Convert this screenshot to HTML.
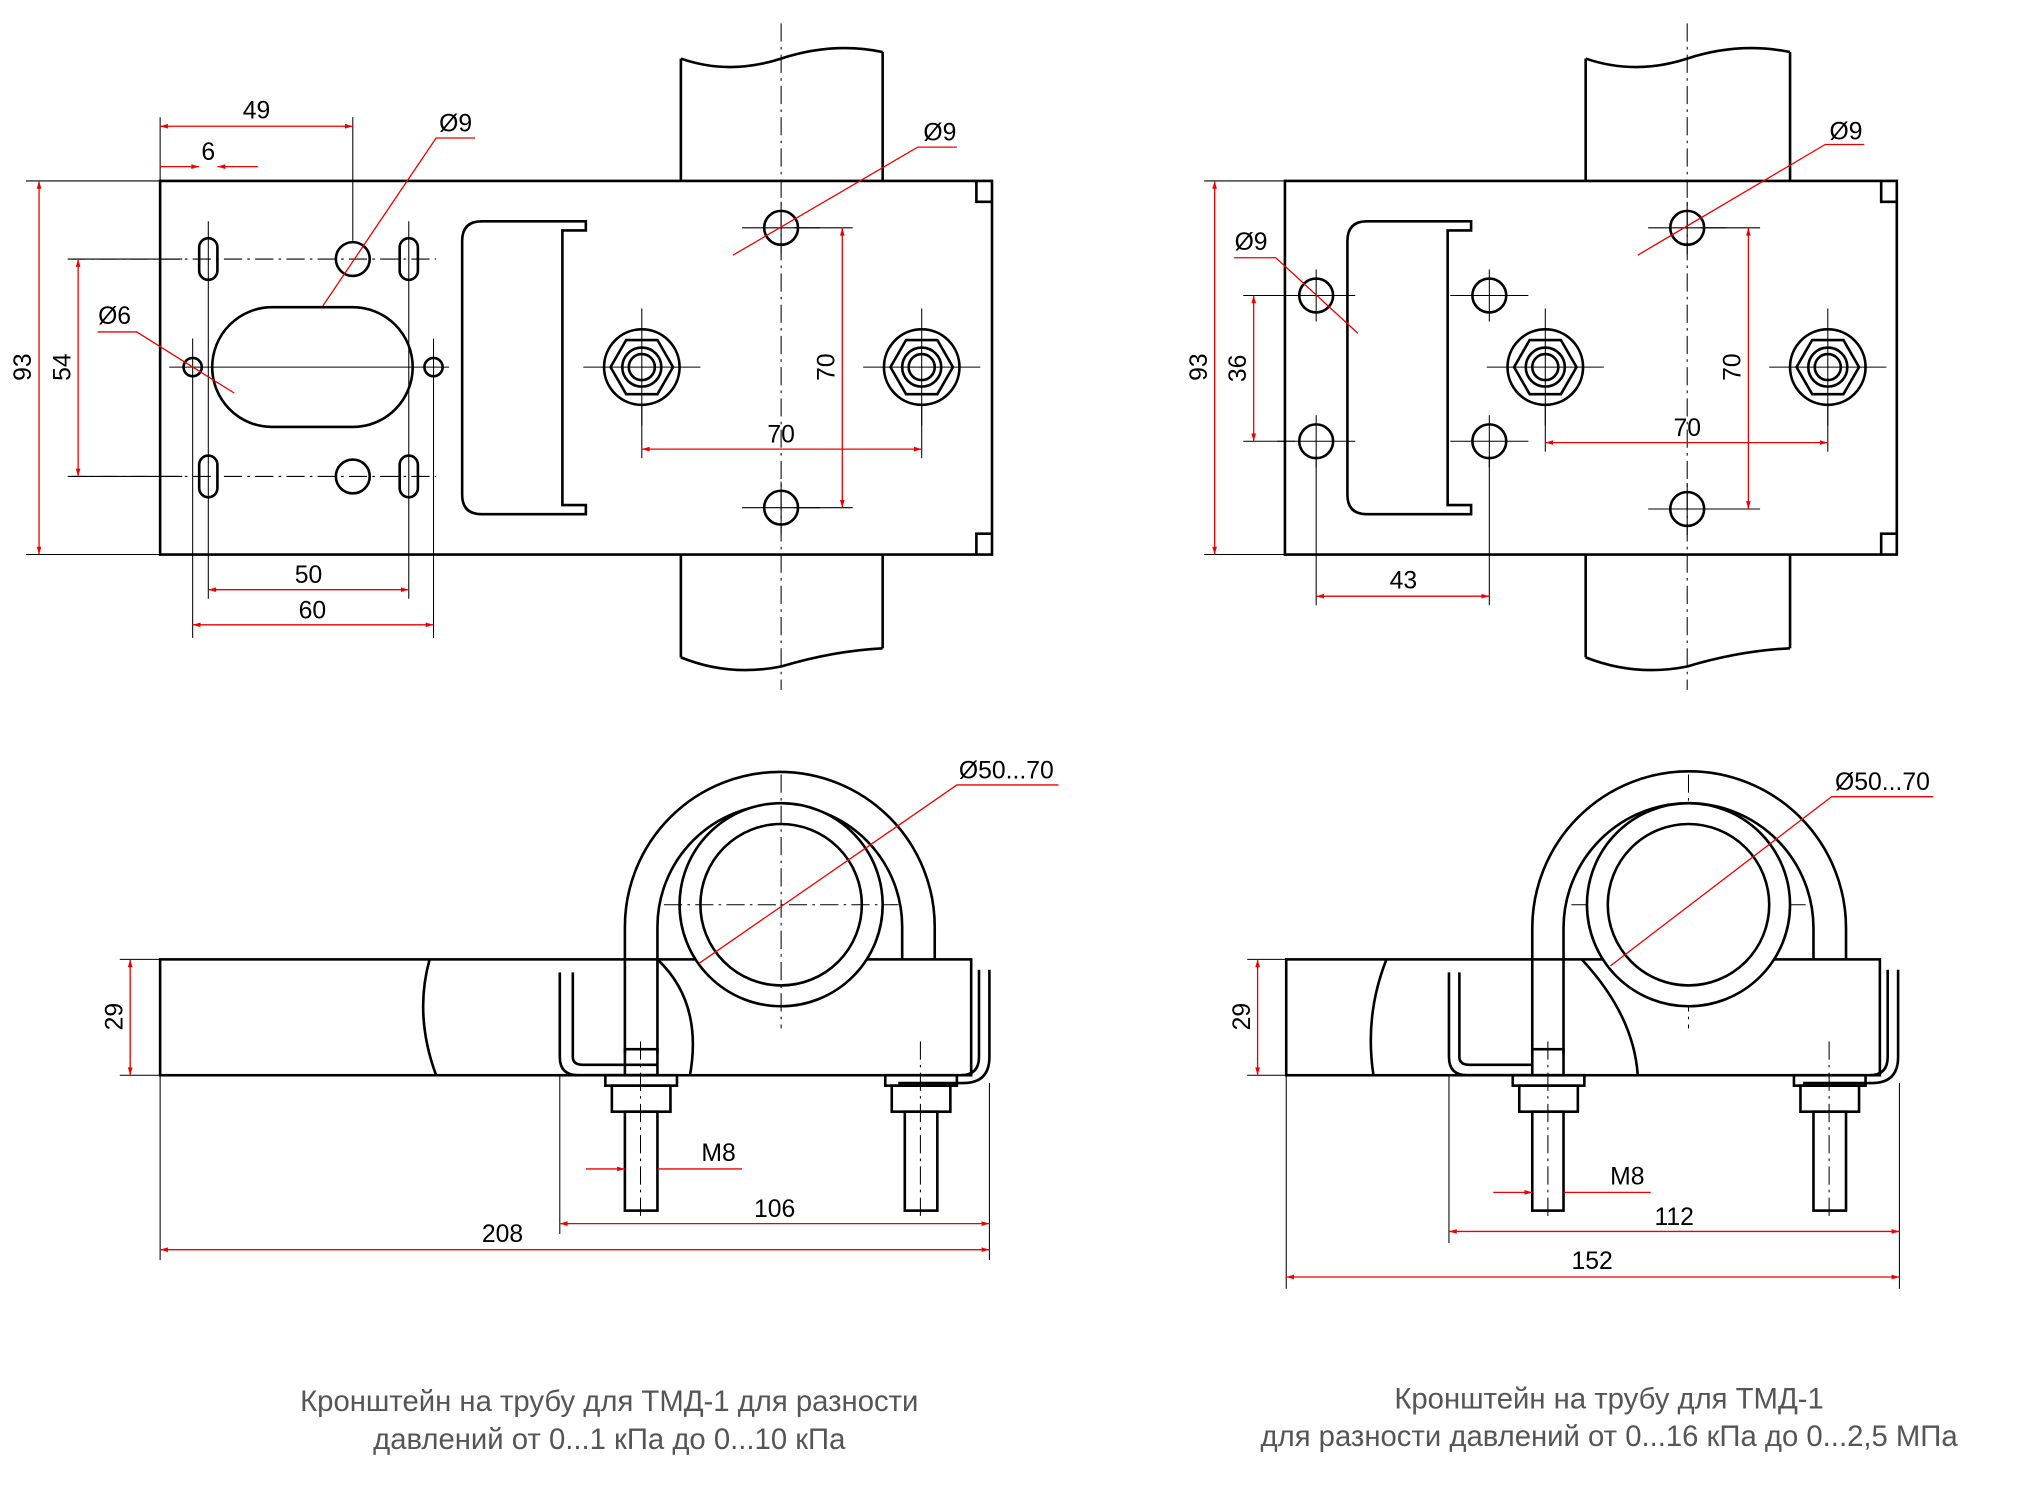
<!DOCTYPE html>
<html><head><meta charset="utf-8"><style>
html,body{margin:0;padding:0;background:#fff;}
svg{display:block;}
text{font-family:"Liberation Sans",sans-serif;}
</style></head><body>
<svg width="2040" height="1497" viewBox="0 0 1567 1150" preserveAspectRatio="none" xmlns="http://www.w3.org/2000/svg">
<defs>
<marker id="a" viewBox="0 0 10 10" refX="10" refY="5" markerWidth="9" markerHeight="6" orient="auto-start-reverse" markerUnits="userSpaceOnUse"><path d="M0,2 L10,5 L0,8 Z" fill="#e00"/></marker>
<g id="nut">
<circle r="29" fill="none" stroke="#000" stroke-width="2"/>
<polygon points="24,0 12,20.8 -12,20.8 -24,0 -12,-20.8 12,-20.8" fill="none" stroke="#000" stroke-width="2"/>
<circle r="15" fill="none" stroke="#000" stroke-width="2"/>
<circle r="10" fill="none" stroke="#000" stroke-width="2"/>
<line x1="-45" y1="0" x2="45" y2="0" stroke="#000" stroke-width="0.8"/>
<line x1="0" y1="-45" x2="0" y2="45" stroke="#000" stroke-width="0.8"/>
</g>
<g id="hole">
<circle r="13" fill="none" stroke="#000" stroke-width="2"/>
<line x1="-30" y1="0" x2="30" y2="0" stroke="#000" stroke-width="0.8"/>
<line x1="0" y1="-20" x2="0" y2="20" stroke="#000" stroke-width="0.8"/>
</g>
</defs>
<g fill="none" stroke="#000" stroke-width="2">
<path d="M523,45 L523,139 M678,40 L678,139 M523,45 Q560,58 600,45 Q640,32 678,40"/>
<path d="M523,426 L523,505 M678,426 L678,498 M523,505 Q560,520 600,512 Q640,500 678,498"/>
<path d="M123,139 H762 V426 H123 Z"/>
<path d="M750,139 V155 H762 M750,426 V410 H762"/>
<rect x="153" y="183" width="14" height="32" rx="7"/>
<rect x="153" y="350" width="14" height="32" rx="7"/>
<rect x="307" y="183" width="14" height="32" rx="7"/>
<rect x="307" y="350" width="14" height="32" rx="7"/>
<rect x="163" y="236" width="154" height="92" rx="46"/>
<circle cx="271" cy="199" r="13"/><circle cx="271" cy="366" r="13"/>
<circle cx="148" cy="282" r="7"/><circle cx="333" cy="282" r="7"/>
<path d="M450,170 H370 Q355,170 355,185 V380 Q355,395 370,395 H450 V388 H432 V177 H450 Z"/>
</g>
<g stroke="#000" stroke-width="0.8" fill="none" stroke-dasharray="14,4,2,4">
<line x1="600" y1="18" x2="600" y2="530"/>
<line x1="52" y1="199" x2="335" y2="199"/>
<line x1="52" y1="366" x2="335" y2="366"/>
<line x1="1296" y1="18" x2="1296" y2="530"/>
</g>
<use href="#hole" x="600" y="175"/><use href="#hole" x="600" y="390"/>
<use href="#nut" x="493" y="282"/><use href="#nut" x="708" y="282"/>
<g stroke="#000" stroke-width="0.8">
<line x1="130" y1="282" x2="345" y2="282"/>
<line x1="148" y1="260" x2="148" y2="490"/><line x1="333" y1="260" x2="333" y2="490"/>
<line x1="160" y1="170" x2="160" y2="460"/><line x1="314" y1="170" x2="314" y2="460"/>
<line x1="123" y1="90" x2="123" y2="139"/><line x1="271" y1="90" x2="271" y2="185"/>
<line x1="20" y1="139" x2="123" y2="139"/><line x1="20" y1="426" x2="123" y2="426"/>
<line x1="55" y1="199" x2="140" y2="199"/><line x1="55" y1="366" x2="140" y2="366"/>
<line x1="610" y1="175" x2="655" y2="175"/><line x1="610" y1="390" x2="655" y2="390"/>
<line x1="493" y1="310" x2="493" y2="352"/><line x1="708" y1="310" x2="708" y2="352"/>
</g>
<g fill="none" stroke="#000" stroke-width="2">
<path d="M1218,45 L1218,139 M1375,40 L1375,139 M1218,45 Q1256,58 1296,45 Q1336,32 1375,40"/>
<path d="M1218,426 L1218,505 M1375,426 L1375,498 M1218,505 Q1256,520 1296,512 Q1336,500 1375,498"/>
<path d="M987,139 H1457 V426 H987 Z"/>
<path d="M1445,139 V155 H1457 M1445,426 V410 H1457"/>
<path d="M1130,170 H1050 Q1035,170 1035,185 V380 Q1035,395 1050,395 H1130 V388 H1112 V177 H1130 Z"/>
</g>
<use href="#hole" x="1011" y="227"/><use href="#hole" x="1011" y="339"/>
<use href="#hole" x="1144" y="227"/><use href="#hole" x="1144" y="339"/>
<use href="#hole" x="1296" y="175"/><use href="#hole" x="1296" y="391"/>
<use href="#nut" x="1187" y="282"/><use href="#nut" x="1404" y="282"/>
<g stroke="#000" stroke-width="0.8">
<line x1="925" y1="139" x2="987" y2="139"/><line x1="925" y1="426" x2="987" y2="426"/>
<line x1="955" y1="227" x2="995" y2="227"/><line x1="955" y1="339" x2="995" y2="339"/>
<line x1="1011" y1="350" x2="1011" y2="465"/><line x1="1144" y1="350" x2="1144" y2="465"/>
<line x1="1306" y1="175" x2="1352" y2="175"/><line x1="1306" y1="391" x2="1352" y2="391"/>
<line x1="1187" y1="310" x2="1187" y2="347"/><line x1="1404" y1="310" x2="1404" y2="347"/>
</g>
<g fill="none" stroke="#000" stroke-width="2">
<rect x="123" y="737" width="623" height="89"/>
<path d="M330,737 Q318,780 335,826"/>
<path d="M480,810 V712 A119,119 0 0 1 718,712 V737"/>
<path d="M505,810 V712 A94,94 0 0 1 693,712 V737"/>
<circle cx="600" cy="695" r="78" fill="#fff"/>
<circle cx="600" cy="695" r="62"/>
<path d="M505,737 Q540,770 530,826"/>
<path d="M430,747 V812 Q430,826 444,826 H505 M440,747 V812 Q440,818 448,818 H505"/>
<path d="M752,745 V812 Q752,826 738,826 M760,745 V812 Q760,832 740,832 H690"/>
<rect x="480" y="806" width="25" height="20"/>
<rect x="465" y="826" width="55" height="8"/>
<rect x="470" y="834" width="45" height="20"/>
<rect x="480" y="854" width="25" height="76"/>
<rect x="680" y="826" width="55" height="8"/>
<rect x="685" y="834" width="45" height="20"/>
<rect x="695" y="854" width="25" height="76"/>
</g>
<g stroke="#000" stroke-width="0.8" stroke-dasharray="14,4,2,4">
<line x1="600" y1="595" x2="600" y2="790"/><line x1="510" y1="695" x2="690" y2="695"/>
<line x1="492" y1="800" x2="492" y2="935"/><line x1="707" y1="800" x2="707" y2="935"/>
<line x1="1297" y1="595" x2="1297" y2="790"/><line x1="1207" y1="695" x2="1387" y2="695"/>
<line x1="1189" y1="800" x2="1189" y2="935"/><line x1="1405" y1="800" x2="1405" y2="935"/>
</g>
<g stroke="#000" stroke-width="0.8">
<line x1="92" y1="737" x2="123" y2="737"/><line x1="92" y1="826" x2="123" y2="826"/>
<line x1="123" y1="826" x2="123" y2="968"/><line x1="760" y1="832" x2="760" y2="968"/>
<line x1="430" y1="826" x2="430" y2="948"/>
</g>
<g fill="none" stroke="#000" stroke-width="2">
<rect x="988" y="737" width="456" height="89"/>
<path d="M1065,737 Q1048,780 1055,826"/>
<path d="M1177,810 V713 A120.5,120.5 0 0 1 1418,713 V737"/>
<path d="M1201,810 V713 A96,96 0 0 1 1393,713 V737"/>
<circle cx="1297" cy="695" r="78" fill="#fff"/>
<circle cx="1297" cy="695" r="62"/>
<path d="M1215,737 Q1255,780 1258,826"/>
<path d="M1113,747 V812 Q1113,826 1127,826 H1177 M1121,747 V812 Q1121,818 1129,818 H1177"/>
<path d="M1450,745 V812 Q1450,826 1436,826 M1458,745 V812 Q1458,832 1438,832 H1385"/>
<rect x="1177" y="806" width="24" height="20"/>
<rect x="1162" y="826" width="55" height="8"/>
<rect x="1167" y="834" width="45" height="20"/>
<rect x="1177" y="854" width="24" height="76"/>
<rect x="1378" y="826" width="55" height="8"/>
<rect x="1383" y="834" width="45" height="20"/>
<rect x="1393" y="854" width="25" height="76"/>
</g>
<g stroke="#000" stroke-width="0.8">
<line x1="958" y1="737" x2="988" y2="737"/><line x1="958" y1="826" x2="988" y2="826"/>
<line x1="988" y1="826" x2="988" y2="990"/><line x1="1459" y1="832" x2="1459" y2="990"/>
<line x1="1113" y1="826" x2="1113" y2="955"/>
</g>
<g stroke="#e00" stroke-width="1" fill="none">
<line x1="30" y1="139" x2="30" y2="426" marker-start="url(#a)" marker-end="url(#a)"/>
<line x1="60" y1="199" x2="60" y2="366" marker-start="url(#a)" marker-end="url(#a)"/>
<line x1="123" y1="97" x2="271" y2="97" marker-start="url(#a)" marker-end="url(#a)"/>
<line x1="123" y1="128" x2="153" y2="128" marker-end="url(#a)"/><line x1="198" y1="128" x2="167" y2="128" marker-end="url(#a)"/>
<polyline points="365,106 335,106 248,235"/>
<polyline points="75,255 105,255 180,302"/>
<polyline points="735,113 705,113 563,196"/>
<line x1="647" y1="175" x2="647" y2="390" marker-start="url(#a)" marker-end="url(#a)"/>
<line x1="493" y1="345" x2="708" y2="345" marker-start="url(#a)" marker-end="url(#a)"/>
<line x1="160" y1="453" x2="314" y2="453" marker-start="url(#a)" marker-end="url(#a)"/>
<line x1="148" y1="480" x2="333" y2="480" marker-start="url(#a)" marker-end="url(#a)"/>
<line x1="933" y1="139" x2="933" y2="426" marker-start="url(#a)" marker-end="url(#a)"/>
<line x1="963" y1="227" x2="963" y2="339" marker-start="url(#a)" marker-end="url(#a)"/>
<line x1="1011" y1="458" x2="1144" y2="458" marker-start="url(#a)" marker-end="url(#a)"/>
<polyline points="948,198 980,198 1043,256"/>
<polyline points="1432,111 1402,111 1258,196"/>
<line x1="1343" y1="175" x2="1343" y2="391" marker-start="url(#a)" marker-end="url(#a)"/>
<line x1="1187" y1="340" x2="1404" y2="340" marker-start="url(#a)" marker-end="url(#a)"/>
<line x1="100" y1="737" x2="100" y2="826" marker-start="url(#a)" marker-end="url(#a)"/>
<line x1="123" y1="960" x2="760" y2="960" marker-start="url(#a)" marker-end="url(#a)"/>
<line x1="430" y1="940" x2="760" y2="940" marker-start="url(#a)" marker-end="url(#a)"/>
<line x1="450" y1="898" x2="480" y2="898" marker-end="url(#a)"/><polyline points="570,898 505,898"/>
<polyline points="813,603 735,603 537,740"/>
<line x1="966" y1="737" x2="966" y2="826" marker-start="url(#a)" marker-end="url(#a)"/>
<line x1="988" y1="981" x2="1459" y2="981" marker-start="url(#a)" marker-end="url(#a)"/>
<line x1="1113" y1="946" x2="1459" y2="946" marker-start="url(#a)" marker-end="url(#a)"/>
<line x1="1147" y1="916" x2="1177" y2="916" marker-end="url(#a)"/><polyline points="1268,916 1201,916"/>
<polyline points="1485,612 1407,612 1237,742"/>
</g>
<g font-size="19" fill="#000">
<text x="197" y="91" text-anchor="middle">49</text>
<text x="160" y="123" text-anchor="middle">6</text>
<text x="350" y="101" text-anchor="middle">Ø9</text>
<text x="88" y="249" text-anchor="middle">Ø6</text>
<text x="722" y="108" text-anchor="middle">Ø9</text>
<text x="600" y="340" text-anchor="middle">70</text>
<text x="237" y="448" text-anchor="middle">50</text>
<text x="240" y="475" text-anchor="middle">60</text>
<text transform="translate(24,282) rotate(-90)" text-anchor="middle">93</text>
<text transform="translate(54,282) rotate(-90)" text-anchor="middle">54</text>
<text transform="translate(641,282) rotate(-90)" text-anchor="middle">70</text>
<text transform="translate(927,282) rotate(-90)" text-anchor="middle">93</text>
<text transform="translate(957,283) rotate(-90)" text-anchor="middle">36</text>
<text transform="translate(1337,282) rotate(-90)" text-anchor="middle">70</text>
<text x="961" y="192" text-anchor="middle">Ø9</text>
<text x="1418" y="107" text-anchor="middle">Ø9</text>
<text x="1296" y="335" text-anchor="middle">70</text>
<text x="1078" y="452" text-anchor="middle">43</text>
<text transform="translate(94,781) rotate(-90)" text-anchor="middle">29</text>
<text transform="translate(960,781) rotate(-90)" text-anchor="middle">29</text>
<text x="773" y="598" text-anchor="middle">Ø50...70</text>
<text x="1446" y="607" text-anchor="middle">Ø50...70</text>
<text x="552" y="892" text-anchor="middle">M8</text>
<text x="1250" y="910" text-anchor="middle">M8</text>
<text x="595" y="935" text-anchor="middle">106</text>
<text x="386" y="954" text-anchor="middle">208</text>
<text x="1286" y="941" text-anchor="middle">112</text>
<text x="1223" y="975" text-anchor="middle">152</text>
</g>
<g font-size="22.5" fill="#555" text-anchor="middle">
<text x="468" y="1084">Кронштейн на трубу для ТМД-1 для разности</text>
<text x="468" y="1113">давлений от 0...1 кПа до 0...10 кПа</text>
<text x="1236" y="1082">Кронштейн на трубу для ТМД-1</text>
<text x="1236" y="1111">для разности давлений от 0...16 кПа до 0...2,5 МПа</text>
</g>
</svg>
</body></html>
